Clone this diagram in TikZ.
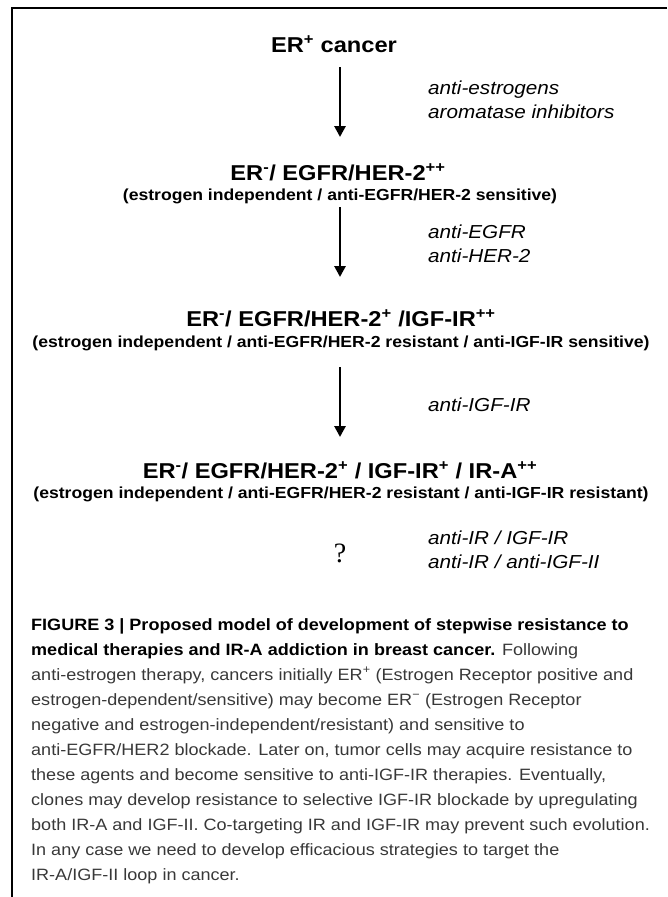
\documentclass[tikz,border=0pt]{standalone}
\usepackage{fontspec}
\setmainfont{Liberation Sans}[FakeStretch=1.1]
\newfontfamily\qfont{Liberation Serif}
\usetikzlibrary{arrows.meta}
\begin{document}
\begin{tikzpicture}[x=1pt, y=-1pt,
	head/.style={font=\fontsize{21.5}{24}\selectfont\bfseries, anchor=base, inner sep=0pt},
	sub/.style={font=\fontsize{16}{18}\selectfont\bfseries, anchor=base, inner sep=0pt},
	drug/.style={font=\fontsize{18.8}{24}\selectfont\itshape, anchor=base west, inner sep=0pt},
	flow/.style={line width=2.8pt, -{Triangle[width=11pt, length=11pt]}}]
	\useasboundingbox (0,0) rectangle (667,897);
	% frame
	\draw[line width=1.2pt] (667,8) -- (12,8) -- (12,897);
	% ER+ stage
	\node[head] (erpos) at (334,52) {ER\textsuperscript{+} cancer};
	\coordinate (a1s) at (340,67);
	\coordinate (a1e) at (340,137);
	\draw[flow] (a1s) -- (a1e);
	\node[drug] (antiest) at (428,94) {anti-estrogens};
	\node[drug] (aromat) at (428,118) {aromatase inhibitors};
	% HER-2 stage
	\node[head] (hertwo) at (338,180) {ER\textsuperscript{-}/ EGFR/HER-2\textsuperscript{++}};
	\node[sub] (hertwosub) at (340,200) {(estrogen independent / anti-EGFR/HER-2 sensitive)};
	\coordinate (a2s) at (340,207);
	\coordinate (a2e) at (340,277);
	\draw[flow] (a2s) -- (a2e);
	\node[drug] (antiegfr) at (428,238) {anti-EGFR};
	\node[drug] (antiher) at (428,262) {anti-HER-2};
	% IGF-IR stage
	\node[head] (igfir) at (341,326) {ER\textsuperscript{-}/ EGFR/HER-2\textsuperscript{+} /IGF-IR\textsuperscript{++}};
	\node[sub] (igfirsub) at (341,347) {(estrogen independent / anti-EGFR/HER-2 resistant / anti-IGF-IR sensitive)};
	\coordinate (a3s) at (340,367);
	\coordinate (a3e) at (340,437);
	\draw[flow] (a3s) -- (a3e);
	\node[drug] (antiigf) at (428,411) {anti-IGF-IR};
	% IR-A stage
	\node[head] (ira) at (340,478) {ER\textsuperscript{-}/ EGFR/HER-2\textsuperscript{+} / IGF-IR\textsuperscript{+} / IR-A\textsuperscript{++}};
	\node[sub] (irasub) at (341,498) {(estrogen independent / anti-EGFR/HER-2 resistant / anti-IGF-IR resistant)};
	\node[anchor=base, inner sep=0pt, font=\qfont\fontsize{28}{30}\selectfont] (quest) at (340,562) {?};
	\node[drug] (antiir) at (428,544) {anti-IR / IGF-IR};
	\node[drug] (antiirii) at (428,568) {anti-IR / anti-IGF-II};
	% caption
	\node[anchor=base west, inner sep=0pt, align=left, text=black!78,
		font=\fontsize{16.4}{25}\selectfont] (caption) at (31,880)
		{\textcolor{black}{\textbf{FIGURE 3 | Proposed model of development of stepwise resistance to}}\\
		\textcolor{black}{\textbf{medical therapies and IR-A addiction in breast cancer.}} Following\\
		anti-estrogen therapy, cancers initially ER\textsuperscript{+} (Estrogen Receptor positive and\\
		estrogen-dependent/sensitive) may become ER\textsuperscript{−} (Estrogen Receptor\\
		negative and estrogen-independent/resistant) and sensitive to\\
		anti-EGFR/HER2 blockade. Later on, tumor cells may acquire resistance to\\
		these agents and become sensitive to anti-IGF-IR therapies. Eventually,\\
		clones may develop resistance to selective IGF-IR blockade by upregulating\\
		both IR-A and IGF-II. Co-targeting IR and IGF-IR may prevent such evolution.\\
		In any case we need to develop efficacious strategies to target the\\
		IR-A/IGF-II loop in cancer.};
\end{tikzpicture}
\end{document}
